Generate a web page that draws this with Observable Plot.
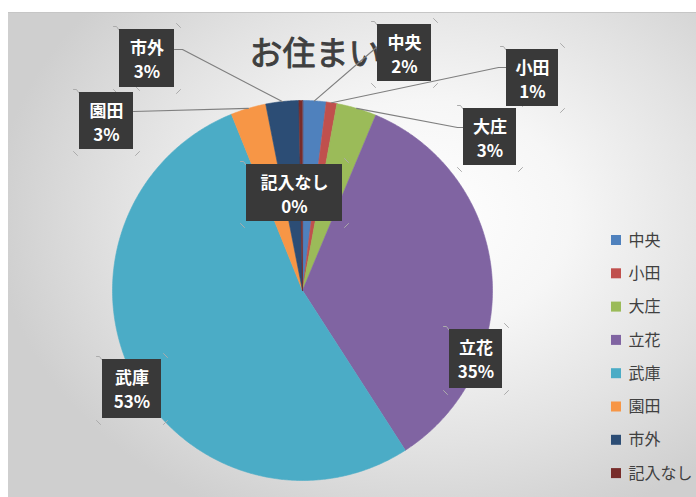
<!DOCTYPE html>
<html>
<head>
<meta charset="utf-8">
<script src="https://cdn.jsdelivr.net/npm/d3@7"></script>
<script src="https://cdn.jsdelivr.net/npm/@observablehq/plot@0.6"></script>
<style>
  html, body { margin: 0; padding: 0; background: #ffffff; }
  #wrap { position: relative; width: 696px; height: 497px; overflow: hidden; background: #ffffff; }
  #bg { position: absolute; left: 8px; top: 12px; right: 0; bottom: 0;
        border-top: 1px solid #c6c6c6;
        background: radial-gradient(ellipse 62% 68% at 60% 42%, #ffffff 0%, #f6f6f6 35%, #e2e2e2 70%, #cfcfcf 100%); }
  #chart { position: absolute; left: 0; top: 0; }
</style>
</head>
<body>
<div id="wrap"><div id="bg"></div><div id="chart"></div></div>
<script>
// ---- data ----
const title = "お住まい";
const categories = ["中央", "小田", "大庄", "立花", "武庫", "園田", "市外", "記入なし"];
const shares = [2.0, 0.9, 3.4, 34.6, 53.0, 3.0, 2.8, 0.3];
const percentLabels = ["2%", "1%", "3%", "35%", "53%", "3%", "3%", "0%"];
const colors = ["#4f81bd", "#c0504d", "#9bbb59", "#8064a2", "#4bacc6", "#f79646", "#2c4d75", "#772c2a"];

// ---- layout (separate from data) ----
const W = 696, H = 497;
const cx = 302, cy = 290, R = 190;
const font = "'Noto Sans CJK JP', 'Noto Sans', sans-serif";
// data label boxes [x0, y0, x1, y1]
const labelBoxes = [
  [377, 24, 431, 81],
  [506, 49, 558, 106],
  [463, 108, 516, 165],
  [449, 329, 502, 388],
  [102, 359, 161, 418],
  [79, 92, 133, 149],
  [119, 29, 174, 87],
  [246, 164, 342, 221]
];
// leader attachment points near the boxes (null = no leader)
const leaderAttach = [
  [[377, 46]],
  [[506, 67], [498, 67]],
  [[463, 127], [457, 127]],
  null,
  null,
  [[133, 111]],
  [[174, 49], [182, 49]],
  null
];
const legendX = 611, legendY0 = 240, legendStep = 33.3;

// ---- derived geometry ----
const total = d3.sum(shares);
const slicePts = [];
const mids = [];
let cum = 0;
categories.forEach((name, i) => {
  const a0 = cum / total * 2 * Math.PI;
  cum += shares[i];
  const a1 = cum / total * 2 * Math.PI;
  mids.push((a0 + a1) / 2);
  const n = Math.max(3, Math.ceil((a1 - a0) / (Math.PI / 360)));
  slicePts.push({name, x: cx, y: cy});
  for (let k = 0; k <= n; k++) {
    const a = a0 + (a1 - a0) * k / n;
    slicePts.push({name, x: cx + R * Math.sin(a), y: cy - R * Math.cos(a)});
  }
});

const leaderPts = [];
categories.forEach((name, i) => {
  if (!leaderAttach[i]) return;
  leaderAttach[i].forEach(([x, y]) => leaderPts.push({name, x, y}));
  const a = mids[i];
  leaderPts.push({name, x: cx + R * Math.sin(a), y: cy - R * Math.cos(a)});
});

const boxes = categories.map((name, i) => {
  const [x0, y0, x1, y1] = labelBoxes[i];
  return {name, x0, y0, x1, y1, pct: percentLabels[i]};
});
const boxText = [];
boxes.forEach(b => {
  const xm = (b.x0 + b.x1) / 2;
  boxText.push({x: xm, y: b.y0 + 19, t: b.name});
  boxText.push({x: xm, y: b.y0 + 43, t: b.pct});
});
// little selection-handle ticks at the box corners
const handles = [];
boxes.forEach((b, i) => {
  const s = [
    [[b.x0 - 6, b.y0 - 3], [b.x0 - 3, b.y0 - 3], [b.x0 - 0.5, b.y0 + 0.5]],
    [[b.x1 + 2, b.y0 - 6], [b.x1 + 6, b.y0 - 2]],
    [[b.x0 - 6, b.y1 + 2], [b.x0 - 2, b.y1 + 6]],
    [[b.x1 + 6, b.y1 + 2], [b.x1 + 2, b.y1 + 6]]
  ];
  s.forEach((seg, j) => seg.forEach(([x, y]) => handles.push({k: i * 4 + j, x, y})));
});

const legend = categories.map((name, i) => ({name, y: legendY0 + i * legendStep}));

const plot = Plot.plot({
  width: W,
  height: H,
  margin: 0,
  style: {background: "transparent", fontFamily: font, overflow: "visible"},
  x: {domain: [0, W], range: [0, W], axis: null},
  y: {domain: [0, H], range: [0, H], axis: null},
  color: {domain: categories, range: colors},
  marks: [
    Plot.line(slicePts, {x: "x", y: "y", z: "name", fill: "name", stroke: "name", strokeWidth: 0.6, curve: "linear-closed"}),
    Plot.text([title], {x: () => 249, y: () => 54, text: d => d, textAnchor: "start", fontSize: 33, fill: "#3f3f3f", stroke: "#3f3f3f", strokeWidth: 0.9, fontFamily: font}),
    Plot.line(leaderPts, {x: "x", y: "y", z: "name", stroke: "#7f7f7f", strokeWidth: 1.2}),
    Plot.line(handles, {x: "x", y: "y", z: "k", stroke: "#ababab", strokeWidth: 1}),
    Plot.rect(boxes, {x1: "x0", x2: "x1", y1: "y0", y2: "y1", fill: "#393939", ariaLabel: "labelbox"}),
    Plot.rect(boxes, {x1: "x0", x2: "x1", y1: "y0", y2: "y1", fill: "white", fillOpacity: 0, ariaLabel: "labeldots"}),
    Plot.text(boxText, {x: "x", y: "y", text: "t", fill: "white", fontSize: 17, fontWeight: "bold", fontFamily: font}),
    Plot.rect(legend, {x1: () => legendX, x2: () => legendX + 10, y1: d => d.y - 5, y2: d => d.y + 5, fill: "name"}),
    Plot.text(legend, {x: () => legendX + 17, y: "y", text: "name", textAnchor: "start", fontSize: 16, fill: "#404040", fontFamily: font})
  ]
});

document.getElementById("chart").appendChild(plot);

// patterns and shadows for the data-label boxes
const svg = d3.select(plot);
const defs = svg.insert("defs", ":first-child");
const pat = defs.append("pattern").attr("id", "dots").attr("width", 6).attr("height", 6).attr("patternUnits", "userSpaceOnUse");
pat.append("circle").attr("cx", 3).attr("cy", 3).attr("r", 1).attr("fill", "rgba(255,255,255,0.10)");
svg.selectAll('g[aria-label="labelbox"]').style("filter", "drop-shadow(3px 3px 2.5px rgba(0,0,0,0.45))");
svg.selectAll('g[aria-label="labeldots"] rect').attr("fill", "url(#dots)").attr("fill-opacity", 1);
</script>
</body>
</html>
